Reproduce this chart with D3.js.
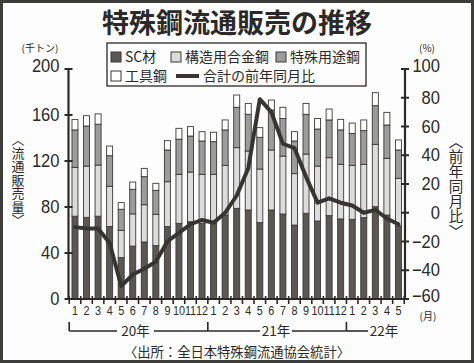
<!DOCTYPE html>
<html><head><meta charset="utf-8">
<script src="https://cdn.jsdelivr.net/npm/d3@7"></script>
<style>
html,body{margin:0;padding:0;background:#fff;}
svg{display:block;}
text{fill:#2b2a28;}
</style></head>
<body>
<script>
const months = ["1","2","3","4","5","6","7","8","9","10","11","12","1","2","3","4","5","6","7","8","9","10","11","12","1","2","3","4","5"];
const years = ["20年","21年","22年"];
const seriesNames = ["SC材","構造用合金鋼","特殊用途鋼","工具鋼"];
const scMaterial   = [72,71,72,63,36,46,49.6,46.4,63,65.8,67.2,65.8,65.8,73,78.8,77.4,66.4,77.4,73.9,64.3,74.5,67.8,72.5,69.6,69.3,70.7,80.3,73,63.5];
const structAlloy  = [42.5,44.6,44.5,35,23.7,28,32.4,27.2,39,42.6,43.2,42.6,42.6,43.2,52.8,51.3,46.6,52.2,50.4,44.7,51.5,47.8,50.4,47.5,46.9,46.4,54.2,49.3,41.5];
const specialUse   = [32.5,34.8,35.5,26.6,18.3,21.4,24.4,20.9,27.6,30.6,31.3,29,28.4,30.8,35.1,31.9,27.6,34.7,32.7,28.4,34.6,32.2,32.8,29.9,27.8,29.3,33.6,29,24.6];
const toolSteel    = [9,9,9,8.4,5.8,6.3,7.2,6.1,8.1,9.4,8.2,8.1,8.2,8.7,10.7,9.5,8.4,8.7,9.7,8.1,9.5,9.2,9.5,9.2,9,9.3,11.3,11,8.7];
const yoyChange    = [-10,-11,-11,-21,-51,-43,-39,-34,-20,-14,-8,-5,-7,0,12,31,79,70,48,45,25,7,10,7,5,0,2,-4,-8];
const leftTicks  = [0,40,80,120,160,200];
const rightTicks = [-60,-40,-20,0,20,40,60,80,100];

const W = 474, H = 363;
const colors = ["#5b5753","#dcdcdc","#9c9c9c","#ffffff"];
const ink = "#2b2a28";

const svg = d3.select("body").append("svg").attr("width",W).attr("height",H);
svg.append("rect").attr("x",0).attr("y",0).attr("width",W).attr("height",H).attr("fill","#fdfdfd");
svg.append("rect").attr("x",1.5).attr("y",1.5).attr("width",W-3).attr("height",H-3)
  .attr("fill","none").attr("stroke","#3d3d3b").attr("stroke-width",3);

const jp = "'Noto Sans CJK JP','Noto Sans CJK SC',sans-serif";
const num = "'Liberation Sans',Arial,sans-serif";

// title
svg.append("text").attr("x",237).attr("y",33).attr("text-anchor","middle")
  .attr("font-family",jp).attr("font-weight","bold").attr("font-size",27).text("特殊鋼流通販売の推移");

const x = d3.scaleBand().domain(d3.range(months.length)).range([69.2,404.2]).paddingInner(0.48).paddingOuter(0.24);
const yL = d3.scaleLinear().domain([0,200]).range([299,69]);
const yR = d3.scaleLinear().domain([-60,100]).range([299,69]);

const table = months.map((m,i)=>({i, SC:scMaterial[i], ST:structAlloy[i], SP:specialUse[i], TL:toolSteel[i]}));
const stack = d3.stack().keys(["SC","ST","SP","TL"])(table);

const g = svg.append("g");
stack.forEach((layer,k)=>{
  g.selectAll(null).data(layer).join("rect")
    .attr("x",d=>x(d.data.i))
    .attr("width",x.bandwidth())
    .attr("y",d=>yL(d[1]))
    .attr("height",d=>yL(d[0])-yL(d[1]))
    .attr("fill",colors[k]).attr("stroke","#3a3936").attr("stroke-width",0.9);
});

// line
const line = d3.line().x((d,i)=>x(i)+x.bandwidth()/2).y(d=>yR(d)).curve(d3.curveLinear);
svg.append("path").datum(yoyChange).attr("d",line).attr("fill","none")
  .attr("stroke","#363532").attr("stroke-width",4).attr("stroke-linejoin","round").attr("stroke-linecap","round");

// left axis
const axL = svg.append("g").attr("transform","translate(68.5,0)")
  .call(d3.axisLeft(yL).tickValues(leftTicks).tickSize(0).tickPadding(0).tickFormat(""));
axL.select(".domain").attr("stroke",ink).attr("stroke-width",2.2).attr("d","M0,69V299");
leftTicks.forEach(v=>{
  svg.append("line").attr("x1",64.5).attr("x2",72.5).attr("y1",yL(v)).attr("y2",yL(v)).attr("stroke",ink).attr("stroke-width",2);
  svg.append("text").attr("transform",`translate(59.5,${yL(v)+ (v===200?3:6)}) scale(0.92,1)`)
    .attr("text-anchor","end").attr("font-family",num).attr("font-size",18).text(v);
});
// right axis
const axR = svg.append("g").attr("transform","translate(405,0)")
  .call(d3.axisRight(yR).tickValues(rightTicks).tickSize(0).tickFormat(""));
axR.select(".domain").attr("stroke",ink).attr("stroke-width",2.2).attr("d","M0,69V299");
rightTicks.forEach(v=>{
  svg.append("line").attr("x1",401).attr("x2",409).attr("y1",yR(v)).attr("y2",yR(v)).attr("stroke",ink).attr("stroke-width",2);
  svg.append("text").attr("transform",`translate(440,${yR(v)+(v===100?3:(v===-60?3:6))}) scale(0.92,1)`)
    .attr("text-anchor","end").attr("font-family",num).attr("font-size",18).text(v<0?"−"+Math.abs(v):v);
});

// x axis
const axX = svg.append("g").attr("transform","translate(0,299)")
  .call(d3.axisBottom(x).tickSize(0).tickFormat(""));
axX.select(".domain").attr("stroke",ink).attr("stroke-width",2.2).attr("d","M68.5,0H405");
const step = x.step();
const x0 = x(0) - x.paddingOuter()*step;
d3.range(months.length+1).forEach(k=>{
  const xx = x0 + k*step;
  svg.append("line").attr("x1",xx).attr("x2",xx).attr("y1",296).attr("y2",304).attr("stroke",ink).attr("stroke-width",1.6);
});
months.forEach((m,i)=>{
  svg.append("text").attr("transform",`translate(${x(i)+x.bandwidth()/2},315) scale(0.8,1)`)
    .attr("text-anchor","middle").attr("font-family",num).attr("font-size",13.5).text(m);
});
svg.append("text").attr("x",428).attr("y",319.5).attr("text-anchor","middle").attr("font-family",jp).attr("font-size",10).text("(月)");

// year brackets
const b0 = x0, b1 = x0+12*step, b2 = x0+24*step;
const by = 331;
const yl = svg.append("g").attr("stroke",ink).attr("stroke-width",1.6);
[b0,b1,b2].forEach(b=>yl.append("line").attr("x1",b).attr("x2",b).attr("y1",322).attr("y2",by));
yl.append("line").attr("x1",b0).attr("x2",117).attr("y1",by).attr("y2",by);
yl.append("line").attr("x1",154).attr("x2",b1).attr("y1",by).attr("y2",by);
yl.append("line").attr("x1",b1).attr("x2",260).attr("y1",by).attr("y2",by);
yl.append("line").attr("x1",292).attr("x2",b2).attr("y1",by).attr("y2",by);
yl.append("line").attr("x1",b2).attr("x2",368).attr("y1",by).attr("y2",by);
[[135.5,years[0]],[276,years[1]],[384,years[2]]].forEach(([cx,t])=>{
  svg.append("text").attr("x",cx).attr("y",336).attr("text-anchor","middle").attr("font-family",jp).attr("font-size",13.5).text(t);
});

// source
svg.append("text").attr("x",237).attr("y",357).attr("text-anchor","middle").attr("font-family",jp).attr("font-size",13.3)
  .text("〈出所：全日本特殊鋼流通協会統計〉");

// unit labels
svg.append("text").attr("x",40).attr("y",52).attr("text-anchor","middle").attr("font-family",jp).attr("font-size",10).text("(千トン)");
svg.append("text").attr("x",427).attr("y",52).attr("text-anchor","middle").attr("font-family",jp).attr("font-size",10).text("(%)");

// vertical axis titles (single vertical text each)
function vtitle(cx, ytop, str, fs, ls){
  svg.append("text").attr("x",cx).attr("y",ytop)
    .attr("font-family",jp).attr("font-size",fs)
    .style("writing-mode","vertical-rl").style("letter-spacing",ls+"px")
    .text(str);
}
vtitle(18,133,"〈流通販売量〉",13,0.5);
vtitle(456,134,"〈前年同月比〉",14.5,0.5);

// legend
const lg = svg.append("g");
lg.append("rect").attr("x",107).attr("y",43).attr("width",259).attr("height",43).attr("fill","#fdfdfd").attr("stroke",ink).attr("stroke-width",1.3);
const items = [
  {x:111,y:52,c:colors[0],t:seriesNames[0]},
  {x:171,y:52,c:colors[1],t:seriesNames[1]},
  {x:276,y:52,c:colors[2],t:seriesNames[2]},
  {x:111,y:71,c:colors[3],t:seriesNames[3]},
];
items.forEach(it=>{
  lg.append("rect").attr("x",it.x).attr("y",it.y).attr("width",10).attr("height",10).attr("fill",it.c).attr("stroke","#3a3936").attr("stroke-width",1);
  lg.append("text").attr("x",it.x+14).attr("y",it.y+10).attr("font-family",jp).attr("font-size",14).text(it.t);
});
lg.append("line").attr("x1",176).attr("x2",199).attr("y1",76).attr("y2",76).attr("stroke","#363532").attr("stroke-width",4);
lg.append("text").attr("x",203).attr("y",81).attr("font-family",jp).attr("font-size",14).text("合計の前年同月比");
</script>
</body></html>
